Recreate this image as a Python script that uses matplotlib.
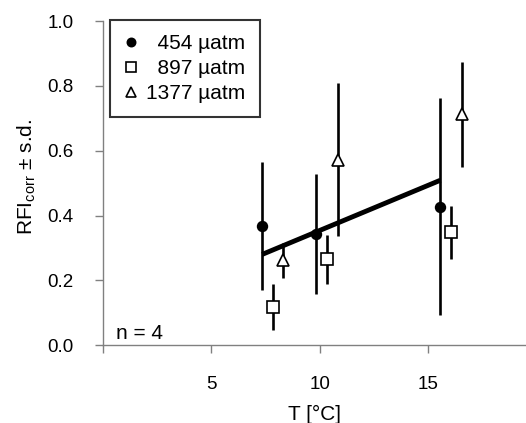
""" RFI_corr vs temperature for three pCO2 levels """

import numpy as np
import matplotlib
matplotlib.use("Agg")
import matplotlib.pyplot as plt

plt.rcParams['font.family'] = ['Liberation Sans', 'DejaVu Sans']

# 454 uatm
t_454 = [7.35, 9.85, 15.56]
rfi_454 = [0.367, 0.343, 0.427]
sd_454 = [0.198, 0.186, 0.335]

# 897 uatm
t_897 = [7.83, 10.35, 16.06]
rfi_897 = [0.118, 0.265, 0.348]
sd_897 = [0.072, 0.075, 0.082]

# 1377 uatm
t_1377 = [8.32, 10.83, 16.55]
rfi_1377 = [0.262, 0.573, 0.712]
sd_1377 = [0.054, 0.237, 0.162]

# regression line
fit_t = [7.35, 15.56]
fit_slope = 0.0279
fit_icept = 0.075

labels = ["  454 µatm", "  897 µatm", "1377 µatm"]


def main():
    fig = plt.figure(figsize=(5.26, 4.23), dpi=100)
    ax = fig.add_axes([0.195, 0.184, 0.805, 0.766])

    grey = "#808080"
    styles = [
        dict(marker="o", mfc="black", ms=7),
        dict(marker="s", mfc="white", ms=8),
        dict(marker="^", mfc="white", ms=8.5),
    ]
    series = [(t_454, rfi_454, sd_454), (t_897, rfi_897, sd_897),
              (t_1377, rfi_1377, sd_1377)]

    handles = []
    for (t, y, sd), st, lab in zip(series, styles, labels):
        ax.errorbar(t, y, yerr=sd, fmt="none", ecolor="black",
                    elinewidth=1.9, capsize=0, zorder=2)
        h, = ax.plot(t, y, linestyle="none", color="black", mec="black",
                     mew=1.2, zorder=3, **st)
        handles.append(h)

    xs = np.array(fit_t)
    ax.plot(xs, fit_icept + fit_slope * xs, color="black", lw=3.5,
            solid_capstyle="butt", zorder=4)

    ax.set_xlim(0, 19.5)
    ax.set_ylim(0, 1.0)
    ax.set_xticks([0, 5, 10, 15])
    ax.set_xticklabels(["", "5", "10", "15"])
    ax.set_yticks(np.arange(0, 1.01, 0.2))
    ax.set_yticklabels(["%.1f" % v for v in np.arange(0, 1.01, 0.2)])

    for side in ["top", "right"]:
        ax.spines[side].set_visible(False)
    for side in ["left", "bottom"]:
        ax.spines[side].set_color(grey)
        ax.spines[side].set_linewidth(1.0)
    ax.tick_params(axis="both", direction="out", length=6, width=1.0,
                   color=grey, labelsize=13.5)
    ax.tick_params(axis="x", pad=16)
    ax.tick_params(axis="y", pad=15)

    ax.set_xlabel("T [°C]", fontsize=15, labelpad=9)
    ax.set_ylabel("RFI$_{\\mathregular{corr}}$ ± s.d.", fontsize=15)
    ax.yaxis.set_label_coords(-0.152, 0.52)

    ax.text(0.62, 0.035, "n = 4", fontsize=15, va="center", ha="left")

    leg = ax.legend(handles, labels, loc="upper left", fontsize=15,
                    bbox_to_anchor=(0.018, 1.003), frameon=True, fancybox=False,
                    edgecolor="black", handlelength=0.6, handletextpad=0.45,
                    borderpad=0.68, borderaxespad=0.0, labelspacing=0.28,
                    markerscale=0.85)
    leg.get_frame().set_linewidth(1.5)

    fig.savefig("out.png", dpi=100)


if __name__ == "__main__":
    main()
